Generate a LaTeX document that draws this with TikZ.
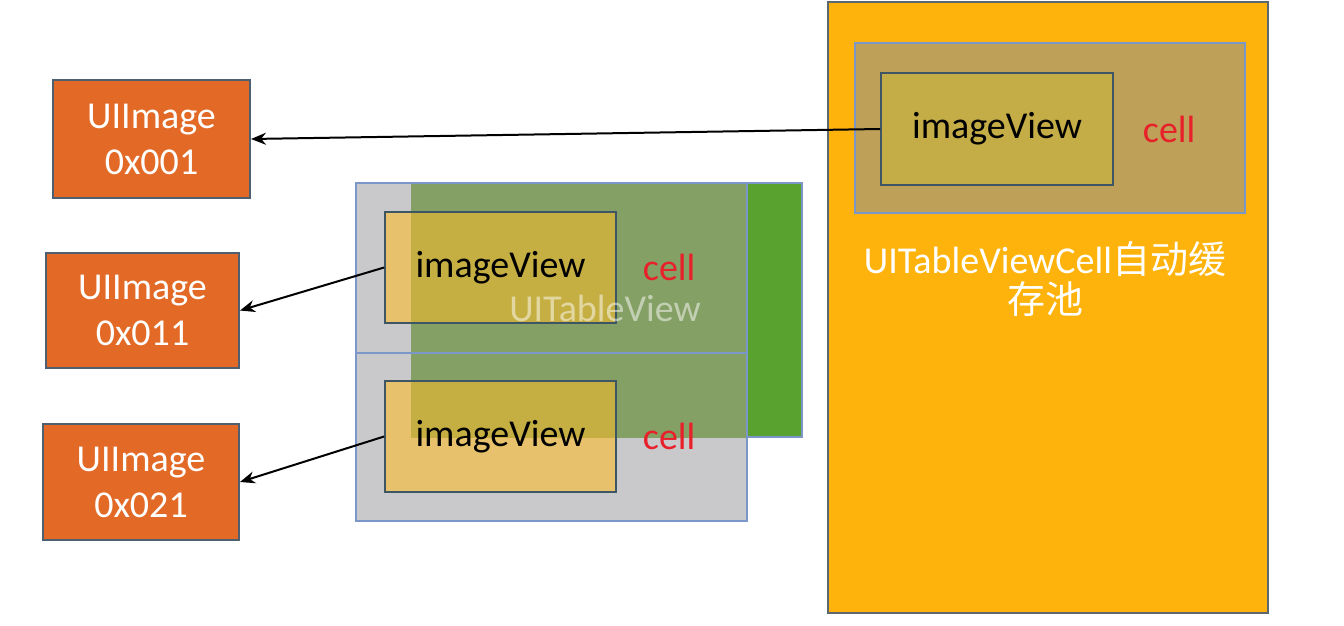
\documentclass[tikz,border=0pt]{standalone}
\usepackage{fontspec}
\setmainfont{Carlito}
\newfontfamily\cjk{Noto Sans CJK SC}
\usetikzlibrary{arrows.meta}
\usetikzlibrary{positioning}

\definecolor{imgorange}{HTML}{E36A26}
\definecolor{imgline}{HTML}{4E5F70}
\definecolor{cellgray}{HTML}{C9C9CC}
\definecolor{cellline}{HTML}{7B96C8}
\definecolor{tvgreen}{HTML}{5AA22F}
\definecolor{tvmix}{HTML}{85A065}
\definecolor{ivlight}{HTML}{E7C16B}
\definecolor{ivdark}{HTML}{C6AF42}
\definecolor{ivline}{HTML}{3E5565}
\definecolor{poolgold}{HTML}{FDB30B}
\definecolor{poolline}{HTML}{5E6670}
\definecolor{poolcell}{HTML}{BEA058}
\definecolor{celltext}{HTML}{E8202A}

\begin{document}
\begin{tikzpicture}[x=0.5pt,y=-0.5pt,>={Stealth[length=7.5pt,width=6pt]},
    txt/.style={font=\fontsize{19}{23}\selectfont},
    imgbox/.style={txt,draw=imgline,line width=1pt,fill=imgorange,text=white,align=center,inner sep=0pt},
    cellbox/.style={fill=cellgray,minimum width=195.5pt,inner sep=0pt},
    ivbox/.style={txt,draw=ivline,line width=0.9pt,fill=ivlight,minimum width=115.5pt,minimum height=55.5pt,inner sep=0pt,
      path picture={\fill[ivdark] (table.north west) rectangle (cellB.east |- table.south);}},
    celllabel/.style={txt,text=celltext},
    ref/.style={->,line width=1pt}]

      \useasboundingbox (0,0) rectangle (1344,626);

      % images
      \node[imgbox,minimum width=98.5pt,minimum height=59pt] (img1) at (151.5,139) {UIImage\\0x001};
      \node[imgbox,minimum width=96.5pt,minimum height=57.5pt] (img2) at (142.5,310.5) {UIImage\\0x011};
      \node[imgbox,minimum width=98pt,minimum height=58pt] (img3) at (141,482) {UIImage\\0x021};

      % table view
      \node[draw=cellline,line width=0.6pt,fill=tvgreen,minimum width=195pt,minimum height=127pt] (table) at (607,310) {};
      \node[cellbox,minimum height=85pt] (cellA) at (551.5,268) {};
      \node[cellbox,minimum height=84pt] (cellB) at (551.5,437) {};
      \fill[tvmix] (table.north west) rectangle (cellB.east |- table.south);
      \draw[cellline,line width=1pt] (cellA.north west) rectangle (cellA.south east);
      \draw[cellline,line width=1pt] (cellB.north west) rectangle (cellB.south east);

      \node[ivbox] (ivA) at (500.5,267.5) {imageView};
      \node[ivbox] (ivB) at (500.5,436.5) {imageView};
      \node[celllabel,right=9.5pt of ivA] (cellAtext) {cell};
      \node[celllabel,right=9.5pt of ivB] (cellBtext) {cell};
      \node[txt,text=white,text opacity=0.5] (tabletext) at (605,308) {UITableView};

      % reuse pool
      \node[draw=poolline,line width=0.8pt,fill=poolgold,minimum width=220pt,minimum height=305.5pt] (pool) at (1048,307.5) {};
      \node[draw=cellline,line width=0.8pt,fill=poolcell,minimum width=195pt,minimum height=85pt] (poolcell) at (1050,128) {};
      \node[txt,draw=ivline,line width=0.9pt,fill=ivdark!80!poolcell,minimum width=116pt,minimum height=56pt,inner sep=0pt] (ivC) at (997,129) {imageView};
      \node[celllabel,right=11pt of ivC] (cellCtext) {cell};
      \node[font=\fontsize{19}{20}\selectfont,text=white,align=center,inner sep=1pt] (pooltext) at (1045,279)
        {UITableViewCell{\cjk 自动缓}\\{\cjk 存池}};

      \draw[ref] (ivC.west) -- (img1.east);
      \draw[ref] (ivA.west) -- (img2.east);
      \draw[ref] (ivB.west) -- (img3.east);
    \end{tikzpicture}
\end{document}
